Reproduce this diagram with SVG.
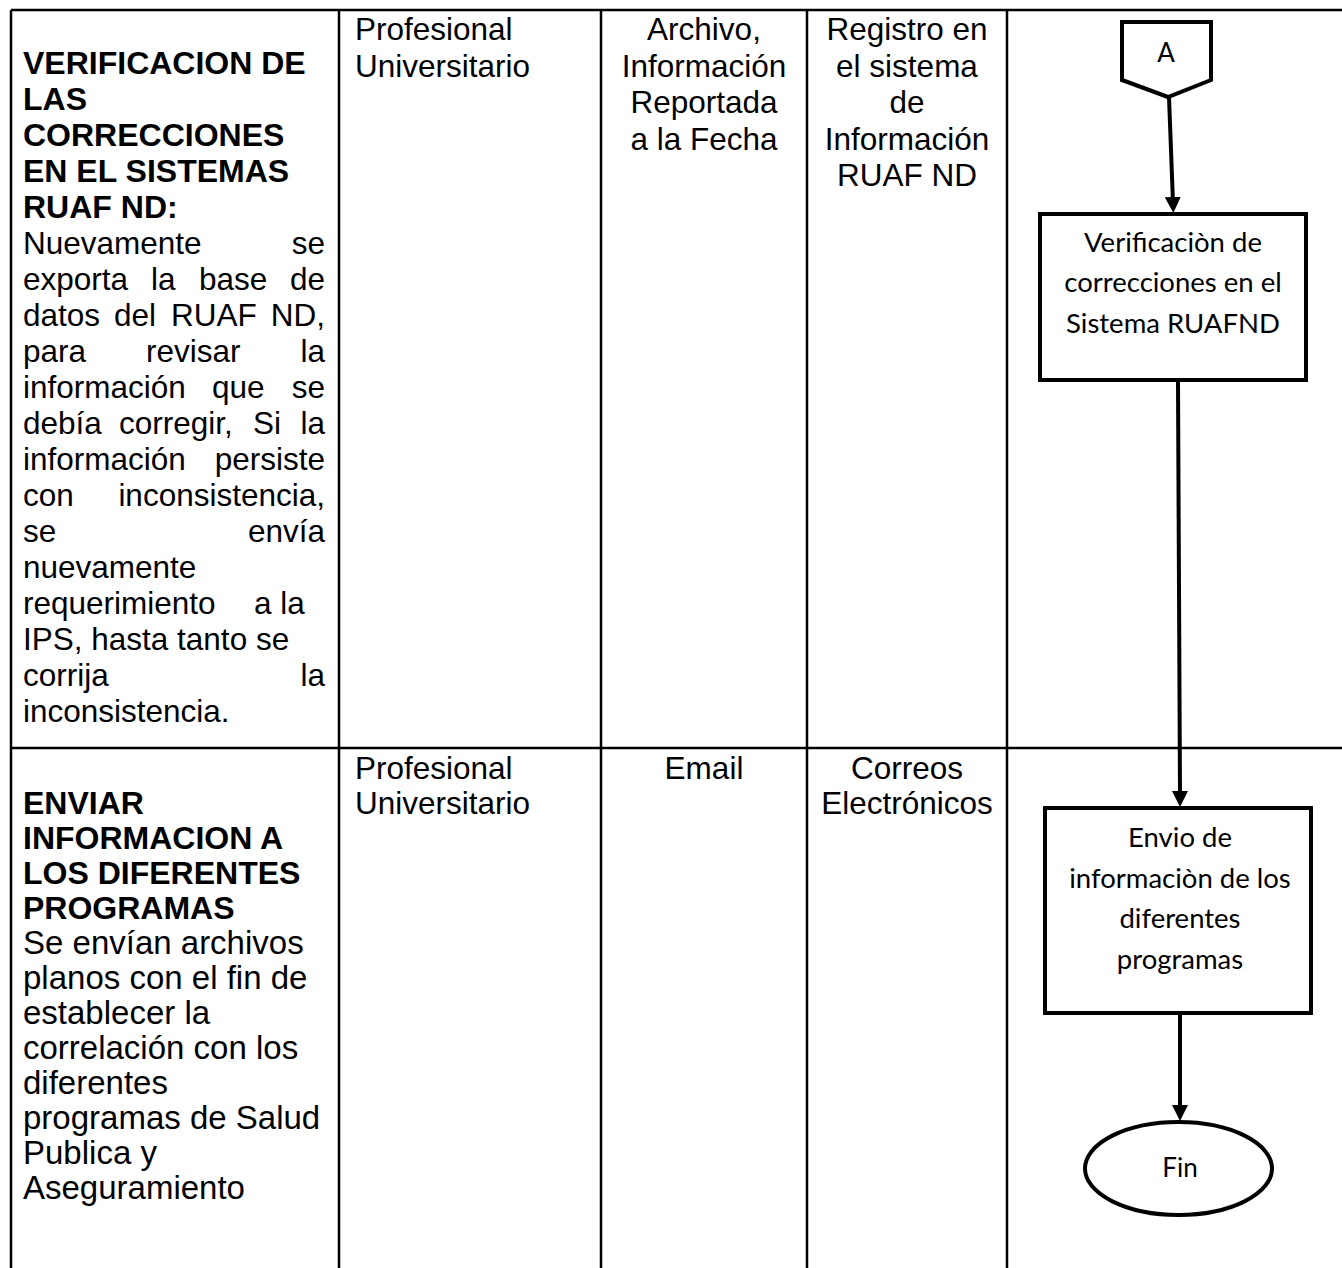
<svg xmlns="http://www.w3.org/2000/svg" width="1342" height="1268" viewBox="0 0 1342 1268">
<style>
.grid{stroke:#000;stroke-width:2.5;fill:none}
.t{font-family:"Liberation Sans",Arial,sans-serif;font-size:31.5px;fill:#000}
.b{font-weight:bold;font-size:32px}
.w{font-size:33px}
.c{text-anchor:middle}
.e{text-anchor:end}
.shape{fill:#fff;stroke:#000;stroke-width:4}
.lbl{font-family:Lato,"Open Sans",sans-serif;font-size:27.5px;fill:#000;text-anchor:middle}
.sm{font-size:26px}
.conn{stroke:#000;stroke-width:4;fill:none}
</style>
<defs>
<marker id="ah" viewBox="0 -9 16 18" markerWidth="16" markerHeight="18" refX="6" refY="0" orient="auto" markerUnits="userSpaceOnUse">
<path d="M0,-8 L16,0 L0,8 Z" fill="#000"/>
</marker>
</defs>
<rect width="1342" height="1268" fill="#fff"/>
<g id="table">
<line class="grid" x1="11" y1="10" x2="1342" y2="10"/>
<line class="grid" x1="11" y1="748" x2="1342" y2="748"/>
<line class="grid" x1="11" y1="10" x2="11" y2="1268"/>
<line class="grid" x1="339" y1="10" x2="339" y2="1268"/>
<line class="grid" x1="601" y1="10" x2="601" y2="1268"/>
<line class="grid" x1="807" y1="10" x2="807" y2="1268"/>
<line class="grid" x1="1007" y1="10" x2="1007" y2="1268"/>
</g>
<g id="cell-verificacion">
<text class="t b" x="23" y="74">VERIFICACION DE</text>
<text class="t b" x="23" y="110">LAS</text>
<text class="t b" x="23" y="146">CORRECCIONES</text>
<text class="t b" x="23" y="182">EN EL SISTEMAS</text>
<text class="t b" x="23" y="218">RUAF ND:</text>
<text class="t" x="23" y="254">Nuevamente</text><text class="t e" x="325" y="254">se</text>
<text class="t" y="290"><tspan x="23">exporta</tspan><tspan x="151">la</tspan><tspan x="199">base</tspan></text><text class="t e" x="325" y="290">de</text>
<text class="t" y="326"><tspan x="23">datos</tspan><tspan x="114">del</tspan><tspan x="171">RUAF</tspan></text><text class="t e" x="325" y="326">ND,</text>
<text class="t" y="362"><tspan x="23">para</tspan><tspan x="146">revisar</tspan></text><text class="t e" x="325" y="362">la</text>
<text class="t" y="398"><tspan x="23">información</tspan><tspan x="212">que</tspan></text><text class="t e" x="325" y="398">se</text>
<text class="t" y="434"><tspan x="23">debía</tspan><tspan x="119">corregir,</tspan><tspan x="253">Si</tspan></text><text class="t e" x="325" y="434">la</text>
<text class="t" x="23" y="470">información</text><text class="t e" x="325" y="470">persiste</text>
<text class="t" x="23" y="506">con</text><text class="t e" x="325" y="506">inconsistencia,</text>
<text class="t" x="23" y="542">se</text><text class="t e" x="325" y="542">envía</text>
<text class="t" x="23" y="578">nuevamente</text>
<text class="t" y="614"><tspan x="23">requerimiento</tspan><tspan x="254">a la</tspan></text>
<text class="t" x="23" y="650">IPS, hasta tanto se</text>
<text class="t" x="23" y="686">corrija</text><text class="t e" x="325" y="686">la</text>
<text class="t" x="23" y="722">inconsistencia.</text>
</g>
<g id="cell-resp1">
<text class="t" x="355" y="40">Profesional</text>
<text class="t" x="355" y="76.5">Universitario</text>
</g>
<g id="cell-doc1">
<text class="t c" x="704" y="40">Archivo,</text>
<text class="t c" x="704" y="76.5">Información</text>
<text class="t c" x="704" y="113">Reportada</text>
<text class="t c" x="704" y="149.5">a la Fecha</text>
</g>
<g id="cell-reg1">
<text class="t c" x="907" y="40">Registro en</text>
<text class="t c" x="907" y="76.5">el sistema</text>
<text class="t c" x="907" y="113">de</text>
<text class="t c" x="907" y="149.5">Información</text>
<text class="t c" x="907" y="186">RUAF ND</text>
</g>
<g id="cell-enviar">
<text class="t b" x="23" y="814">ENVIAR</text>
<text class="t b" x="23" y="849">INFORMACION A</text>
<text class="t b" x="23" y="884">LOS DIFERENTES</text>
<text class="t b" x="23" y="919">PROGRAMAS</text>
<text class="t w" x="23" y="954">Se envían archivos</text>
<text class="t w" x="23" y="989">planos con el fin de</text>
<text class="t w" x="23" y="1024">establecer la</text>
<text class="t w" x="23" y="1059">correlación con los</text>
<text class="t w" x="23" y="1094">diferentes</text>
<text class="t w" x="23" y="1129">programas de Salud</text>
<text class="t w" x="23" y="1164">Publica y</text>
<text class="t w" x="23" y="1199">Aseguramiento</text>
</g>
<g id="cell-resp2">
<text class="t" x="355" y="779">Profesional</text>
<text class="t" x="355" y="814">Universitario</text>
</g>
<g id="cell-doc2">
<text class="t c" x="704" y="779">Email</text>
</g>
<g id="cell-reg2">
<text class="t c" x="907" y="779">Correos</text>
<text class="t c" x="907" y="814">Electrónicos</text>
</g>
<g id="connectors">
<line class="conn" x1="1169" y1="97" x2="1173" y2="203" marker-end="url(#ah)"/>
<line class="conn" x1="1178" y1="382" x2="1180" y2="797" marker-end="url(#ah)"/>
<line class="conn" x1="1180" y1="1015" x2="1180" y2="1111" marker-end="url(#ah)"/>
</g>
<g id="node-A">
<polygon class="shape" points="1122,22 1211,22 1211,80 1168,97 1122,80"/>
<text class="lbl sm" x="1166" y="62">A</text>
</g>
<g id="node-verificacion">
<rect class="shape" x="1040" y="214" width="266" height="166"/>
<text class="lbl" x="1173" y="252">Verificaciòn de</text>
<text class="lbl" x="1173" y="292">correcciones en el</text>
<text class="lbl" x="1173" y="333">Sistema RUAFND</text>
</g>
<g id="node-envio">
<rect class="shape" x="1045" y="808" width="266" height="205"/>
<text class="lbl" x="1180" y="847">Envio de</text>
<text class="lbl" x="1180" y="888">informaciòn de los</text>
<text class="lbl" x="1180" y="928">diferentes</text>
<text class="lbl" x="1180" y="969">programas</text>
</g>
<g id="node-fin">
<ellipse class="shape" cx="1178.5" cy="1168.5" rx="93.5" ry="46.5"/>
<text class="lbl sm" x="1180" y="1177">Fin</text>
</g>
</svg>
